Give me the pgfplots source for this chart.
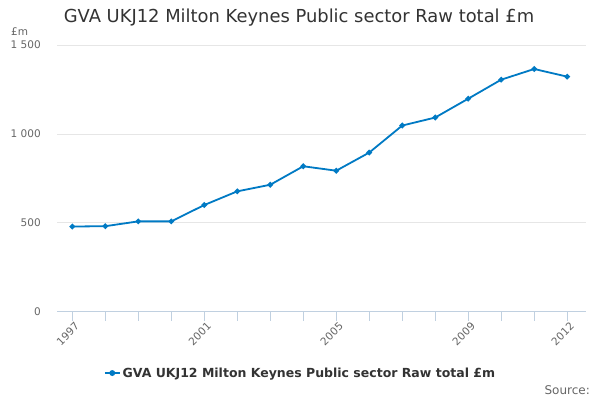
\documentclass[border=0pt]{standalone}
\usepackage{fontspec}
\setmainfont{DejaVu Sans}
\usepackage{pgfplots}
\pgfplotsset{compat=1.18}
\definecolor{serie}{RGB}{0,122,196}
\definecolor{axcol}{RGB}{192,208,224}
\definecolor{gridcol}{RGB}{230,230,230}
\definecolor{titlecol}{RGB}{51,51,51}
\definecolor{labcol}{RGB}{102,102,102}
\begin{document}
\begin{tikzpicture}[x=1pt,y=1pt]
\useasboundingbox (0,0) rectangle (600,400);
\fill[white] (0,0) rectangle (600,400);
\begin{axis}[
  at={(57.3pt,88.3pt)}, anchor=south west,
  scale only axis, width=528.7pt, height=266.7pt,
  xmin=1996.545, xmax=2012.57, ymin=0, ymax=1500,
  axis x line*=bottom, axis y line*=left,
  x axis line style={draw=axcol, line width=0.8pt, -},
  y axis line style={draw=none},
  xtick={1997,...,2012},
  xticklabels={1997,,,,2001,,,,2005,,,,2009,,,2012},
  xtick style={draw=axcol, line width=0.8pt},
  tick align=outside,
  major tick length=9pt,
  ytick={0,500,1000,1500},
  yticklabels={0,500,1 000,1 500},
  ytick style={draw=none},
  ymajorgrids,
  grid style={draw=gridcol, line width=0.8pt},
  tick label style={font=\fontsize{10.5}{12}\selectfont, text=labcol},
  xticklabel style={rotate=45, anchor=north east, inner sep=1pt, xshift=2pt, yshift=-1pt},
  yticklabel style={anchor=east, xshift=-4pt},
  legend style={at={(0.46,-0.23)}, anchor=center, draw=none, fill=none,
    font=\bfseries\fontsize{12.5}{14}\selectfont, text=titlecol},
  legend image code/.code={
    \draw[serie, line width=1.8pt] (0pt,0pt) -- (15pt,0pt);
    \fill[serie] (7.5pt,0pt) circle (2pt);
  },
  clip=false,
]
\addplot[serie, line width=1.8pt, mark=*, mark size=1.8pt, mark options={fill=serie, draw=serie}]
coordinates {
(1997,479) (1998,481) (1999,508) (2000,508) (2001,600) (2002,677)
(2003,714) (2004,818) (2005,793) (2006,895) (2007,1047) (2008,1092)
(2009,1198) (2010,1305) (2011,1365) (2012,1322)
};
\addlegendentry{GVA UKJ12 Milton Keynes Public sector Raw total £m}
\end{axis}
\node[font=\fontsize{17.9}{20}\selectfont, text=titlecol, anchor=center] at (299,382) {GVA UKJ12 Milton Keynes Public sector Raw total £m};
\node[font=\fontsize{10.5}{12}\selectfont, text=labcol, anchor=west, inner sep=0pt] at (11,368) {£m};
\node[font=\fontsize{12}{14}\selectfont, text=labcol, anchor=east, inner sep=0pt] at (590,10) {Source:};
\end{tikzpicture}
\end{document}
